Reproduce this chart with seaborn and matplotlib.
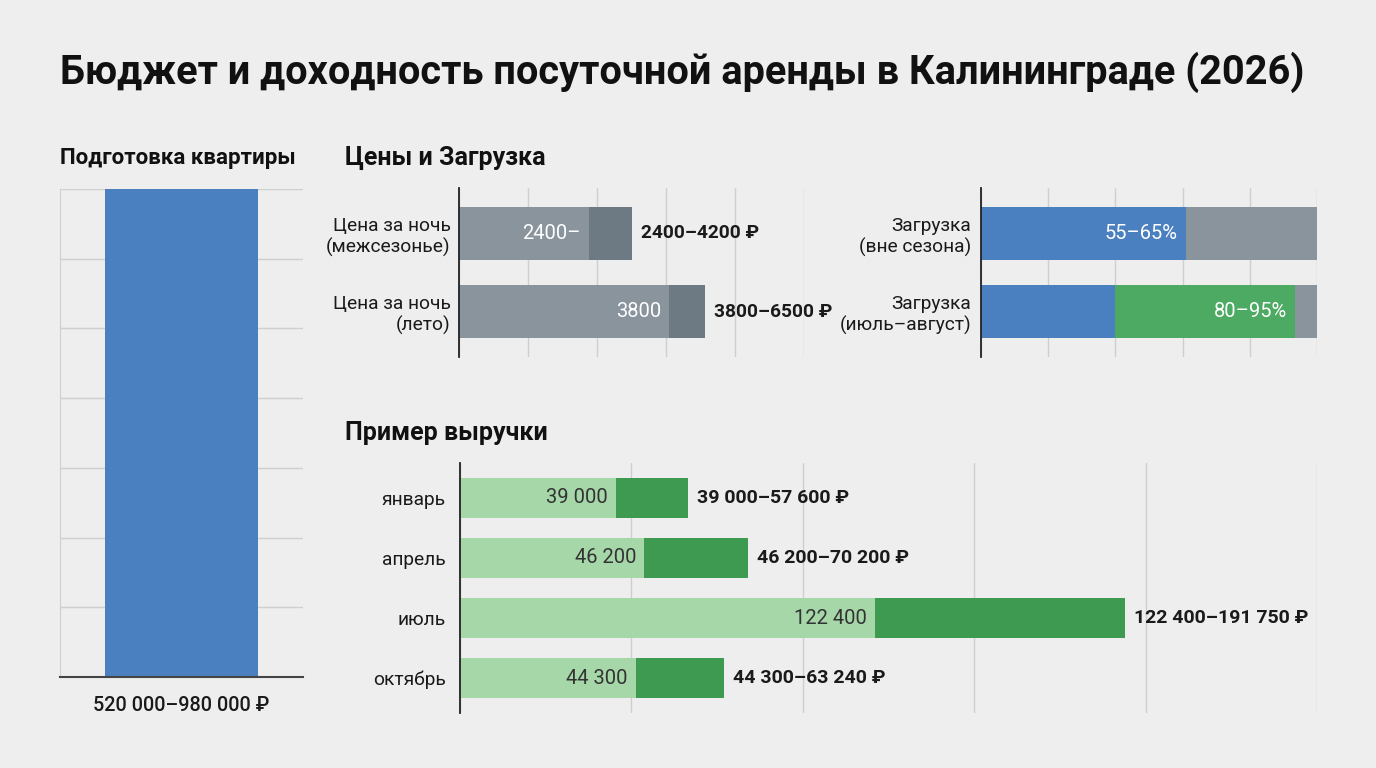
import matplotlib
matplotlib.use("Agg")
import matplotlib.pyplot as plt
import numpy as np
import pandas as pd
import seaborn as sns

# ---------- данные (длины полос) ----------
prep_label = ["520 000–980 000 ₽"]
prep_value = [980000]

price_cats = ["Цена за ночь\n(межсезонье)", "Цена за ночь\n(лето)"]
price_light = [2820, 4570]
price_dark = [3760, 5350]
price_inner = ["2400–", "3800"]
price_range = ["2400–4200 ₽", "3800–6500 ₽"]

occ_cats = ["Загрузка\n(вне сезона)", "Загрузка\n(июль–август)"]
occ_blue = [61, 40]
occ_green = [np.nan, 93.5]
occ_total = [100, 100]
occ_inner = ["55–65%", "80–95%"]

months = ["январь", "апрель", "июль", "октябрь"]
rev_light = [45500, 53700, 121000, 51300]
rev_dark = [66500, 84000, 194000, 77000]
rev_inner = ["39 000", "46 200", "122 400", "44 300"]
rev_range = ["39 000–57 600 ₽", "46 200–70 200 ₽", "122 400–191 750 ₽", "44 300–63 240 ₽"]

# ---------- оформление ----------
BG = "#eeeeee"
BLUE = "#4a80bf"
GRAY_L = "#8a949d"
GRAY_D = "#6d7a84"
GREEN = "#4caa62"
GREEN_L = "#a5d7a8"
GREEN_D = "#3d9a50"
GRID = "#cfcfcf"
TXT = "#1a1a1a"

sns.set_style("white")
plt.rcParams["font.family"] = ["Roboto", "DejaVu Sans"]

W, H = 1376, 768
fig = plt.figure(figsize=(W / 100, H / 100), dpi=100, facecolor=BG)

BAR = dict(saturation=1, linewidth=0, edgecolor="none")


def px_axes(x0, y0, x1, y1):
    ax = fig.add_axes([x0 / W, 1 - y1 / H, (x1 - x0) / W, (y1 - y0) / H])
    ax.set_facecolor(BG)
    return ax


def hstyle(ax, xmax, n):
    ax.set_xlim(0, xmax)
    ax.set_xticks(np.linspace(0, xmax, 6))
    ax.set_xticklabels([])
    ax.set_ylim(n - 1 + 0.583, -0.583)
    ax.xaxis.grid(True, color=GRID, lw=1)
    ax.set_axisbelow(True)
    for s in ["top", "right", "bottom"]:
        ax.spines[s].set_visible(False)
    ax.spines["left"].set_color("#222222")
    ax.spines["left"].set_linewidth(1.3)
    ax.tick_params(length=0)
    ax.set_xlabel("")
    ax.set_ylabel("")


def inner_label(ax, x, y, s, color):
    ax.annotate(s, (x, y), xytext=(-8, 0), textcoords="offset pixels",
                ha="right", va="center", fontsize=14.5, color=color)


def outer_label(ax, x, y, s, size=13.8):
    ax.annotate(s, (x, y), xytext=(9, 0), textcoords="offset pixels",
                ha="left", va="center", fontsize=size, fontweight="bold", color=TXT)


# заголовки
fig.text(60 / W, 1 - 72 / H, "Бюджет и доходность посуточной аренды в Калининграде (2026)",
         ha="left", va="center", fontsize=28.6, fontweight="bold", color="#111111")
fig.text(60 / W, 1 - 158 / H, "Подготовка квартиры", ha="left", va="center",
         fontsize=16, fontweight="bold", color="#111111")
fig.text(345 / W, 1 - 158 / H, "Цены и Загрузка", ha="left", va="center",
         fontsize=18, fontweight="bold", color="#111111")
fig.text(345 / W, 1 - 433 / H, "Пример выручки", ha="left", va="center",
         fontsize=18, fontweight="bold", color="#111111")

# ---------- подготовка квартиры ----------
ax0 = px_axes(60, 189, 303, 677)
sns.barplot(x=prep_label, y=prep_value, color=BLUE, width=0.63, ax=ax0, **BAR)
ax0.set_ylim(0, 980000)
ax0.set_yticks(np.arange(0, 980001, 140000))
ax0.set_yticklabels([])
ax0.yaxis.grid(True, color=GRID, lw=1)
ax0.set_axisbelow(True)
for s in ["top", "right"]:
    ax0.spines[s].set_visible(False)
ax0.spines["left"].set_color(GRID)
ax0.spines["bottom"].set_color("#444444")
ax0.spines["bottom"].set_linewidth(1.5)
ax0.tick_params(length=0, axis="x", pad=14, labelsize=14.3, labelcolor=TXT)
for t in ax0.get_xticklabels():
    t.set_fontweight("medium")
ax0.tick_params(length=0, axis="y")
ax0.set_xlabel("")
ax0.set_ylabel("")

# ---------- цены ----------
ax1 = px_axes(459, 188, 804, 357)
sns.barplot(x=price_dark, y=price_cats, orient="h", color=GRAY_D, width=0.69, ax=ax1, **BAR)
sns.barplot(x=price_light, y=price_cats, orient="h", color=GRAY_L, width=0.69, ax=ax1, **BAR)
hstyle(ax1, 7500, len(price_cats))
ax1.tick_params(axis="y", pad=6, labelsize=13.8, labelcolor=TXT)
for i in range(len(price_cats)):
    inner_label(ax1, price_light[i], i, price_inner[i], "white")
    outer_label(ax1, price_dark[i], i, price_range[i])

# ---------- загрузка ----------
occ = pd.DataFrame({"cat": occ_cats, "blue": occ_blue, "green": occ_green, "total": occ_total})
ax2 = px_axes(981, 188, 1317, 357)
sns.barplot(data=occ, x="total", y="cat", orient="h", color=GRAY_L, width=0.69,
            order=occ_cats, ax=ax2, **BAR)
sns.barplot(data=occ.dropna(), x="green", y="cat", orient="h", color=GREEN, width=0.69,
            order=occ_cats, ax=ax2, **BAR)
sns.barplot(data=occ, x="blue", y="cat", orient="h", color=BLUE, width=0.69,
            order=occ_cats, ax=ax2, **BAR)
hstyle(ax2, 100, len(occ_cats))
ax2.tick_params(axis="y", pad=7, labelsize=13.8, labelcolor=TXT)
for i in range(len(occ_cats)):
    end = occ_green[i] if not np.isnan(occ_green[i]) else occ_blue[i]
    inner_label(ax2, end, i, occ_inner[i], "white")

# ---------- выручка ----------
ax3 = px_axes(460, 463, 1317, 713)
sns.barplot(x=rev_dark, y=months, orient="h", color=GREEN_D, width=0.667, ax=ax3, **BAR)
sns.barplot(x=rev_light, y=months, orient="h", color=GREEN_L, width=0.667, ax=ax3, **BAR)
hstyle(ax3, 250000, len(months))
ax3.tick_params(axis="y", pad=10, labelsize=13.8, labelcolor=TXT)
for i in range(len(months)):
    inner_label(ax3, rev_light[i], i, rev_inner[i], "#333333")
    outer_label(ax3, rev_dark[i], i, rev_range[i], size=14)

fig.savefig("out.png", dpi=100, facecolor=BG)
